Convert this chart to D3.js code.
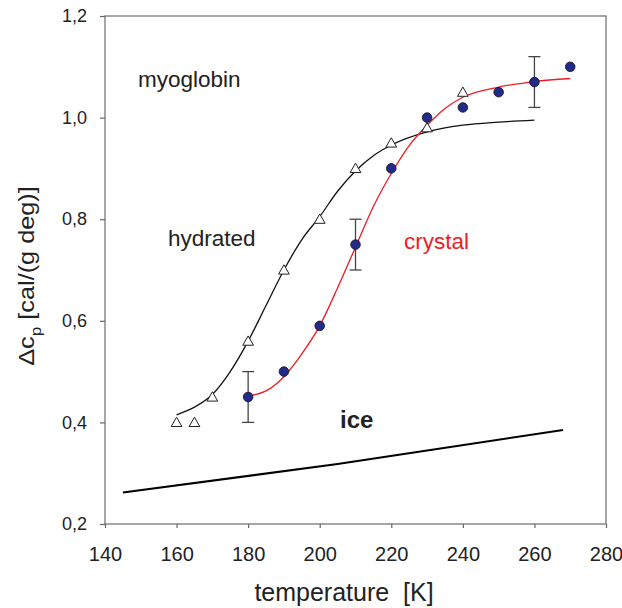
<!DOCTYPE html>
<meta charset="utf-8">
<style>
body {
	margin: 0;
	background-color: white;
}
#chart text {
	font-family: "Liberation Sans", Arial, sans-serif;
	fill: #222;
}
.frame {
	fill: none;
	stroke: #777;
	stroke-width: 1.3px;
}
.tick line {
	stroke: #666;
	stroke-width: 1.2px;
}
</style>
<html>
	<head>
		<title>myoglobin heat capacity</title>
		<script src="https://cdn.jsdelivr.net/npm/d3@7"></script>
	</head>
	<body>
		<svg id="chart"></svg>

<script>
'use strict'

const chartWidth  = 622,
      chartHeight = 608,
      margin      = {top: 16, right: 16, bottom: 84, left: 105}

// tick values and labels:
const xTicks = [140, 160, 180, 200, 220, 240, 260, 280]
const yTicks = [0.2, 0.4, 0.6, 0.8, 1.0, 1.2]
const yTickLabels = ["0,2", "0,4", "0,6", "0,8", "1,0", "1,2"]

// hydrated sample (open triangles):
const hydratedT  = [160, 165, 170, 180, 190, 200, 210, 220, 230, 240]
const hydratedCp = [0.40, 0.40, 0.45, 0.56, 0.70, 0.80, 0.90, 0.95, 0.98, 1.05]

// crystal sample (filled circles):
const crystalT  = [180, 190, 200, 210, 220, 230, 240, 250, 260, 270]
const crystalCp = [0.45, 0.50, 0.59, 0.75, 0.90, 1.00, 1.02, 1.05, 1.07, 1.10]

// error bars on the crystal points:
const errT    = [180, 210, 260]
const errLow  = [0.40, 0.70, 1.02]
const errHigh = [0.50, 0.80, 1.12]

// fitted curves:
const hydratedFitT  = [160, 165, 170, 175, 180, 185, 190, 195, 200, 205, 210, 215, 220, 230, 240, 250, 260]
const hydratedFitCp = [0.415, 0.43, 0.455, 0.50, 0.56, 0.63, 0.70, 0.76, 0.805, 0.855, 0.895, 0.925, 0.946, 0.972, 0.985, 0.991, 0.995]
const crystalFitT  = [180, 185, 190, 195, 200, 205, 210, 215, 220, 225, 230, 235, 240, 250, 260, 270]
const crystalFitCp = [0.452, 0.462, 0.49, 0.535, 0.59, 0.665, 0.745, 0.825, 0.89, 0.945, 0.985, 1.018, 1.04, 1.06, 1.071, 1.077]

// ice reference line:
const iceT  = [145, 205, 268]
const iceCp = [0.262, 0.318, 0.385]

const svg = d3.select("#chart")
	.attr("width", chartWidth)
	.attr("height", chartHeight)

const x = d3.scaleLinear()
	.domain([140, 280])
	.range([margin.left, chartWidth - margin.right])
const y = d3.scaleLinear()
	.domain([0.2, 1.2])
	.range([chartHeight - margin.bottom, margin.top])

// frame:
svg.append("rect")
	.attr("class", "frame")
	.attr("x", x(140))
	.attr("y", y(1.2))
	.attr("width", x(280) - x(140))
	.attr("height", y(0.2) - y(1.2))

// axes:
const xAxis = svg.append("g")
	.attr("transform", "translate(0," + y(0.2) + ")")
	.call(d3.axisBottom(x).tickValues(xTicks).tickSize(4).tickPadding(19).tickFormat(d3.format("d")))
xAxis.select(".domain").remove()
xAxis.selectAll("text").style("font-size", "20px")

const yAxis = svg.append("g")
	.attr("transform", "translate(" + x(140) + ",0)")
	.call(d3.axisLeft(y).tickValues(yTicks).tickSize(5).tickPadding(13).tickFormat((d, i) => yTickLabels[i]))
yAxis.select(".domain").remove()
yAxis.selectAll("text").style("font-size", "18px")

// axis titles:
svg.append("text")
	.attr("x", 344)
	.attr("y", 601)
	.attr("text-anchor", "middle")
	.style("font-size", "25px")
	.style("white-space", "pre")
	.text("temperature  [K]")

const yTitle = svg.append("text")
	.attr("transform", "translate(34,276) rotate(-90) scale(1.15,1)")
	.attr("text-anchor", "middle")
	.style("font-size", "22px")
yTitle.append("tspan").text("Δc")
yTitle.append("tspan").attr("dy", 7).style("font-size", "15px").text("p")
yTitle.append("tspan").attr("dy", -7).text(" [cal/(g deg)]")

const line = d3.line()
	.x(d => x(d[0]))
	.y(d => y(d[1]))
	.curve(d3.curveMonotoneX)

// ice line:
svg.append("path")
	.datum(d3.zip(iceT, iceCp))
	.attr("d", line)
	.attr("fill", "none")
	.attr("stroke", "black")
	.attr("stroke-width", 2)

// fitted curves:
svg.append("path")
	.datum(d3.zip(hydratedFitT, hydratedFitCp))
	.attr("d", line)
	.attr("fill", "none")
	.attr("stroke", "#111")
	.attr("stroke-width", 1.3)

svg.append("path")
	.datum(d3.zip(crystalFitT, crystalFitCp))
	.attr("d", line)
	.attr("fill", "none")
	.attr("stroke", "#ee1c24")
	.attr("stroke-width", 1.3)

// error bars:
const errs = svg.append("g")
	.attr("stroke", "#444")
	.attr("stroke-width", 1.3)
	.selectAll("g")
	.data(d3.range(errT.length))
	.enter().append("g")
errs.append("line")
	.attr("x1", i => x(errT[i])).attr("x2", i => x(errT[i]))
	.attr("y1", i => y(errLow[i])).attr("y2", i => y(errHigh[i]))
errs.append("line")
	.attr("x1", i => x(errT[i]) - 6).attr("x2", i => x(errT[i]) + 6)
	.attr("y1", i => y(errLow[i])).attr("y2", i => y(errLow[i]))
errs.append("line")
	.attr("x1", i => x(errT[i]) - 6).attr("x2", i => x(errT[i]) + 6)
	.attr("y1", i => y(errHigh[i])).attr("y2", i => y(errHigh[i]))

// triangles:
svg.append("g")
	.selectAll("path")
	.data(d3.zip(hydratedT, hydratedCp))
	.enter().append("path")
	.attr("d", d3.symbol(d3.symbolTriangle, 50))
	.attr("transform", d => "translate(" + x(d[0]) + "," + (y(d[1]) + 1) + ")")
	.attr("fill", "white")
	.attr("stroke", "#222")
	.attr("stroke-width", 1)

// circles:
svg.append("g")
	.selectAll("circle")
	.data(d3.zip(crystalT, crystalCp))
	.enter().append("circle")
	.attr("cx", d => x(d[0]))
	.attr("cy", d => y(d[1]))
	.attr("r", 4.8)
	.attr("fill", "#232a8c")
	.attr("stroke", "#111")
	.attr("stroke-width", 0.8)

// annotations:
svg.append("text").attr("x", 138).attr("y", 87).style("font-size", "22.5px").text("myoglobin")
svg.append("text").attr("x", 168).attr("y", 246).style("font-size", "22.5px").text("hydrated")
svg.append("text").attr("x", 404).attr("y", 249).style("font-size", "22.5px").style("fill", "#ee1c24").text("crystal")
svg.append("text").attr("x", 340).attr("y", 428).style("font-size", "24px").style("font-weight", "bold").text("ice")
</script>

	</body>
</html>
